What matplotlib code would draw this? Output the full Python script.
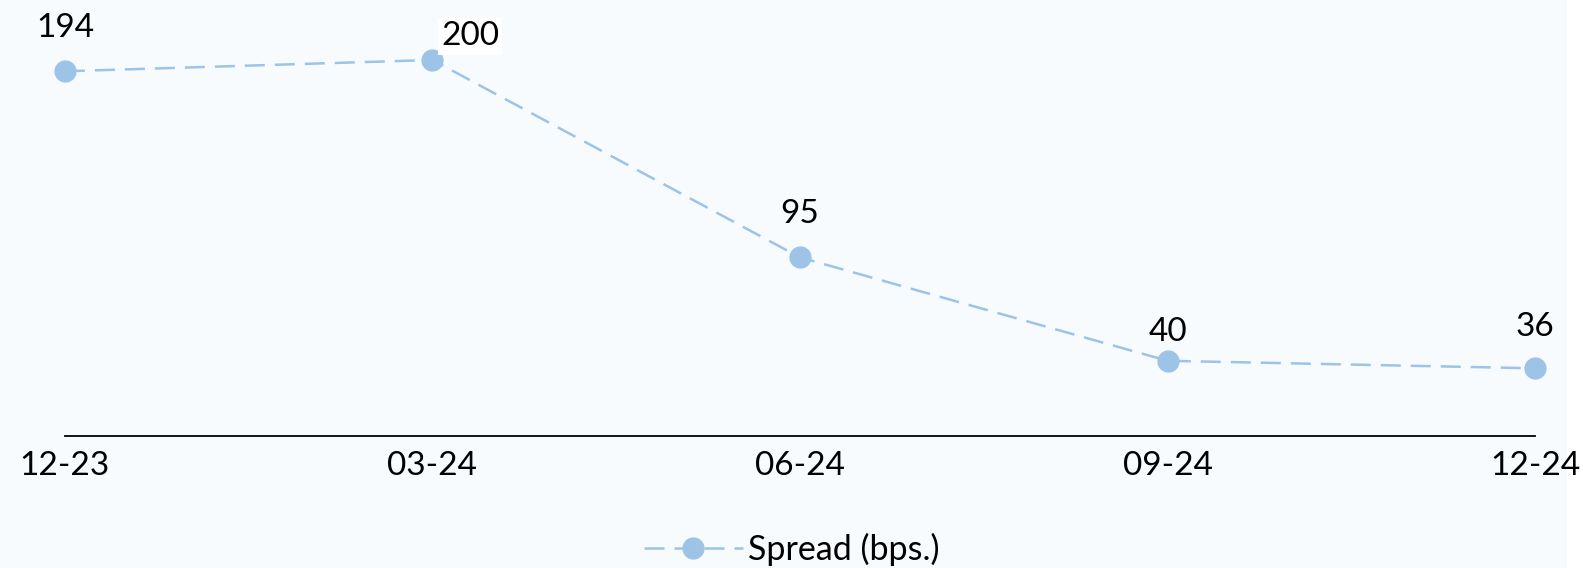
import matplotlib
matplotlib.use("Agg")
import matplotlib.pyplot as plt
from matplotlib.patches import Rectangle

# data
quarters = ["12-23", "03-24", "06-24", "09-24", "12-24"]
spread = [194, 200, 95, 40, 36]
series_name = "Spread (bps.)"

# label offsets (points) from each marker
label_offsets = [(0, 31), (27, 17), (0, 31), (0, 21), (0, 30)]

BG = "#F7FBFE"
BLUE = "#9DC3E6"

plt.rcParams["font.family"] = ["Lato", "DejaVu Sans"]

fig = plt.figure(figsize=(15.83, 5.68), dpi=100, facecolor=BG)
fig.patches.append(Rectangle((1567 / 1583, 0), 1, 1, transform=fig.transFigure,
                             facecolor="white", edgecolor="none", zorder=-1))
ax = fig.add_axes([0.041, 0.2324, 0.9287, 0.7282])
ax.set_facecolor(BG)

x = list(range(len(quarters)))
ax.plot(x, spread, color=BLUE, lw=1.8, dashes=(8, 4), marker="o", ms=15,
        mec=BLUE, mfc=BLUE, label=series_name, clip_on=False, zorder=3)

for xi, v, (dx, dy) in zip(x, spread, label_offsets):
    kw = {}
    if dx:
        kw["bbox"] = dict(boxstyle="square,pad=0.1", fc="white", ec="none")
    ax.annotate(str(v), (xi, v), xytext=(dx, dy), textcoords="offset points",
                ha="center", va="center", fontsize=24, color="black", zorder=4, **kw)

ax.set_xlim(0, len(quarters) - 1)
ax.set_ylim(0, 220)
ax.set_xticks(x)
ax.set_xticklabels(quarters, fontsize=24)
ax.tick_params(axis="x", length=0, pad=11)
ax.set_yticks([])
for s in ("top", "right", "left"):
    ax.spines[s].set_visible(False)
ax.spines["bottom"].set_color("black")
ax.spines["bottom"].set_linewidth(1.3)

fig.legend(loc="center", bbox_to_anchor=(0.5, 0.032), frameon=False, fontsize=24.5,
           handlelength=2.9, handletextpad=0.15)

fig.savefig("out.png", dpi=100, facecolor=fig.get_facecolor())
